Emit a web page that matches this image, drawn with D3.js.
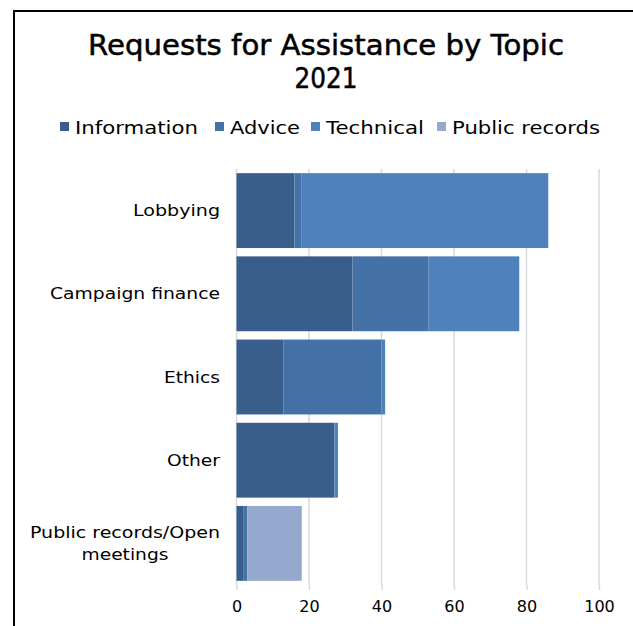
<!DOCTYPE html>
<html>
<head>
<meta charset="utf-8">
<script src="https://cdn.jsdelivr.net/npm/d3@7"></script>
<style>
  html, body { margin: 0; padding: 0; background: #fff; overflow: hidden; }
  text { font-family: "DejaVu Sans", sans-serif; fill: #000; }
</style>
</head>
<body>
<div id="chart"></div>
<script>
// Chart data
const categories = ["Lobbying", "Campaign finance", "Ethics", "Other", "Public records/Open meetings"];
const seriesNames = ["Information", "Advice", "Technical", "Public records"];
const information = [16, 32, 13, 27, 2];
const advice = [2, 21, 27, 0, 1];
const technical = [68, 25, 1, 1, 0];
const publicRecords = [0, 0, 0, 0, 15];
const xTicks = [0, 20, 40, 60, 80, 100];
const colors = ["#3a5e8c", "#4472a7", "#4f81bd", "#95a9cf"];

const WIDTH = 633;
const HEIGHT = 626;
const margin = { top: 169, left: 236.5, right: 34, bottom: 41 };

// widths of the original (wider) typeface, used to stretch the text
const labelWidths = {
  "Lobbying": 87,
  "Campaign finance": 170,
  "Ethics": 56,
  "Other": 53,
  "Public records/Open": 190,
  "meetings": 87,
};
const legendLayout = [
  { x: 60, w: 123 },
  { x: 215, w: 70 },
  { x: 311, w: 98 },
  { x: 437, w: 148 },
];

const svg = d3
  .select("#chart")
  .append("svg")
  .attr("width", WIDTH)
  .attr("height", HEIGHT);

// chart frame, cropped at right and bottom
svg.append("rect")
  .attr("x", 14)
  .attr("y", 11)
  .attr("width", WIDTH + 20)
  .attr("height", HEIGHT + 20)
  .attr("fill", "none")
  .attr("stroke", "#000")
  .attr("stroke-width", 2);

// Title
const titleLines = [
  { text: "Requests for Assistance by Topic", y: 55, w: 476 },
  { text: "2021", y: 88, w: 63 },
];
titleLines.forEach((t) => {
  svg.append("text")
    .attr("x", 326)
    .attr("y", t.y)
    .attr("text-anchor", "middle")
    .attr("textLength", t.w)
    .attr("lengthAdjust", "spacingAndGlyphs")
    .style("font-size", "28px")
    .style("stroke", "#000")
    .style("stroke-width", 0.5)
    .text(t.text);
});

// Scales
const xScale = d3.scaleLinear([0, 100], [margin.left, WIDTH - margin.right]);
const yScale = d3
  .scaleBand(categories, [margin.top, HEIGHT - margin.bottom])
  .paddingInner(0.1)
  .paddingOuter(0.05);

// gridlines
svg.append("g")
  .attr("class", "grid")
  .selectAll("line")
  .data(xTicks)
  .enter()
  .append("line")
  .attr("x1", (d) => xScale(d))
  .attr("x2", (d) => xScale(d))
  .attr("y1", margin.top)
  .attr("y2", HEIGHT - margin.bottom)
  .attr("stroke", "#d9d9d9")
  .attr("stroke-width", 1.5);

// stacked bars
const table = categories.map((c, i) => ({
  category: c,
  "Information": information[i],
  "Advice": advice[i],
  "Technical": technical[i],
  "Public records": publicRecords[i],
}));
const stacked = d3.stack().keys(seriesNames)(table);

svg.append("g")
  .selectAll("g")
  .data(stacked)
  .enter()
  .append("g")
  .attr("fill", (d, i) => colors[i])
  .selectAll("rect")
  .data((d) => d)
  .enter()
  .append("rect")
  .attr("x", (d) => xScale(d[0]))
  .attr("y", (d) => yScale(d.data.category))
  .attr("width", (d) => xScale(d[1]) - xScale(d[0]))
  .attr("height", yScale.bandwidth());

// x axis
const xAxis = svg.append("g")
  .attr("transform", `translate(0,${HEIGHT - margin.bottom})`)
  .call(d3.axisBottom(xScale).tickValues(xTicks).tickSize(5).tickSizeOuter(0));
xAxis.select(".domain").remove();
xAxis.selectAll(".tick line").attr("stroke", "#d9d9d9").attr("stroke-width", 1.5);
xAxis.selectAll(".tick text")
  .attr("y", 16)
  .style("font-size", "16px")
  .style("font-family", "DejaVu Sans, sans-serif");

// category labels
const labelLines = {
  "Public records/Open meetings": ["Public records/Open", "meetings"],
};
const labelRight = 220;
categories.forEach((c) => {
  const lines = labelLines[c] || [c];
  const cy = yScale(c) + yScale.bandwidth() / 2;
  const firstW = labelWidths[lines[0]];
  lines.forEach((line, k) => {
    svg.append("text")
      .attr("x", k === 0 ? labelRight : labelRight - firstW / 2)
      .attr("y", cy + 5.5 + (k - (lines.length - 1) / 2) * 22)
      .attr("text-anchor", k === 0 ? "end" : "middle")
      .attr("textLength", labelWidths[line])
      .attr("lengthAdjust", "spacingAndGlyphs")
      .style("font-size", "16px")
      .text(line);
  });
});

// Legend
const legend = svg.append("g");
seriesNames.forEach((name, i) => {
  legend.append("rect")
    .attr("x", legendLayout[i].x)
    .attr("y", 122)
    .attr("width", 9)
    .attr("height", 9)
    .attr("fill", colors[i]);
  legend.append("text")
    .attr("x", legendLayout[i].x + 15)
    .attr("y", 134)
    .attr("textLength", legendLayout[i].w)
    .attr("lengthAdjust", "spacingAndGlyphs")
    .style("font-size", "18px")
    .text(name);
});
</script>
</body>
</html>
